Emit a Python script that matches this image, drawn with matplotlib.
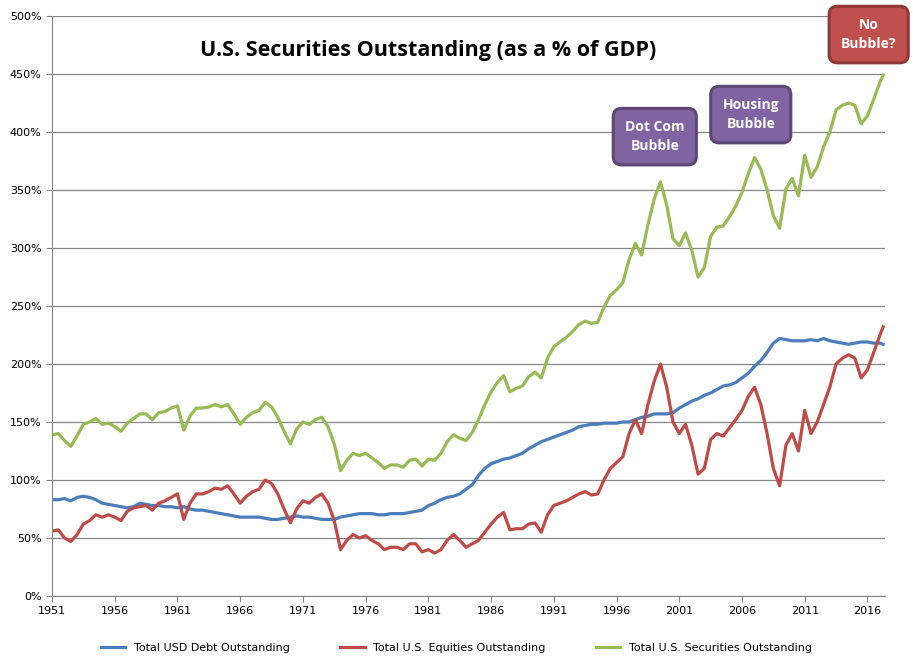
import numpy as np
import matplotlib
matplotlib.use('Agg')
import matplotlib.pyplot as plt
from matplotlib.ticker import FuncFormatter

# semiannual points 1951.0 .. 2017.0, plus last quarter 2017.25
years = list(np.arange(1951, 2017.01, 0.5)) + [2017.25]

debt = [83, 83, 84, 82, 85, 86, 85, 83, 80, 79, 78, 77, 76, 77, 80, 79, 78, 78, 77, 77,
        76, 77, 75, 74, 74, 73, 72, 71, 70, 69, 68, 68, 68, 68, 67, 66, 66, 67, 68, 69,
        68, 68, 67, 66, 66, 66, 68, 69, 70, 71, 71, 71, 70, 70, 71, 71, 71, 72, 73, 74,
        78, 80, 83, 85, 86, 88, 92, 96, 104, 110, 114, 116, 118, 119, 121, 123, 127, 130, 133, 135,
        137, 139, 141, 143, 146, 147, 148, 148, 149, 149, 149, 150, 150, 152, 154, 155, 157, 157, 157, 158,
        162, 165, 168, 170, 173, 175, 178, 181, 182, 184, 188, 192, 198, 203, 210, 218, 222, 221, 220, 220,
        220, 221, 220, 222, 220, 219, 218, 217, 218, 219, 219, 218, 218, 217]

equities = [56, 57, 50, 47, 53, 62, 65, 70, 68, 70, 68, 65, 73, 76, 77, 78, 74, 80, 82, 85,
            88, 66, 80, 88, 88, 90, 93, 92, 95, 88, 80, 86, 90, 92, 100, 97, 88, 75, 63, 75,
            82, 80, 85, 88, 80, 65, 40, 48, 53, 50, 52, 48, 45, 40, 42, 42, 40, 45, 45, 38,
            40, 37, 40, 48, 53, 48, 42, 45, 48, 55, 62, 68, 72, 57, 58, 58, 62, 63, 55, 70,
            78, 80, 82, 85, 88, 90, 87, 88, 100, 110, 115, 120, 140, 152, 140, 165, 185, 200, 180, 150,
            140, 148, 130, 105, 110, 135, 140, 138, 145, 152, 160, 172, 180, 165, 140, 110, 95, 130, 140, 125,
            160, 140, 150, 165, 180, 200, 205, 208, 205, 188, 195, 210, 225, 232]

total = [d + e for d, e in zip(debt, equities)]

tick_years = list(range(1951, 2017, 5))

fig = plt.figure(figsize=(9.13, 6.63), dpi=100)
ax = fig.add_axes([52 / 913, 1 - 596 / 663, (885 - 52) / 913, (596 - 16) / 663])

ax.plot(years, debt, color='#4a7ebb', lw=2.3, label='Total USD Debt Outstanding')
ax.plot(years, equities, color='#be4b48', lw=2.3, label='Total U.S. Equities Outstanding')
ax.plot(years, total, color='#98b954', lw=2.3, label='Total U.S. Securities Outstanding')

ax.set_xlim(1951, 2017.4)
ax.set_ylim(0, 500)
ax.set_yticks(range(0, 501, 50))
ax.yaxis.set_major_formatter(FuncFormatter(lambda v, p: f'{int(v)}%'))
ax.set_xticks(tick_years)
ax.tick_params(labelsize=8, length=4, color='#868686')
ax.grid(axis='y', color='#868686', lw=0.9)
ax.set_axisbelow(True)
for s in ['top', 'right']:
    ax.spines[s].set_visible(False)
for s in ['left', 'bottom']:
    ax.spines[s].set_color('#868686')

ax.text(1981, 470, 'U.S. Securities Outstanding (as a % of GDP)', ha='center', va='center',
        fontsize=15.5, fontweight='bold', family='Open Sans')

box = dict(boxstyle='round,pad=0.85,rounding_size=0.6', fc='#8064a2', ec='#5c4776', lw=2.2)
ax.text(1999.05, 396, 'Dot Com\nBubble', ha='center', va='center', color='white',
        fontsize=10, fontweight='bold', family='Open Sans', bbox=box, linespacing=1.45)
ax.text(2006.7, 415, 'Housing\nBubble', ha='center', va='center', color='white',
        fontsize=10, fontweight='bold', family='Open Sans', bbox=box, linespacing=1.45)
box2 = dict(boxstyle='round,pad=0.85,rounding_size=0.6', fc='#c0504d', ec='#8c3836', lw=2.2)
ax.text(2016.1, 484, 'No\nBubble?', ha='center', va='center', color='white',
        fontsize=10, fontweight='bold', family='Open Sans', bbox=box2, linespacing=1.45)

fig.legend(loc='lower center', bbox_to_anchor=(0.5, 0.0), ncol=3, frameon=False,
           fontsize=8, handlelength=2.2, columnspacing=4.5)

fig.savefig('out.png')
